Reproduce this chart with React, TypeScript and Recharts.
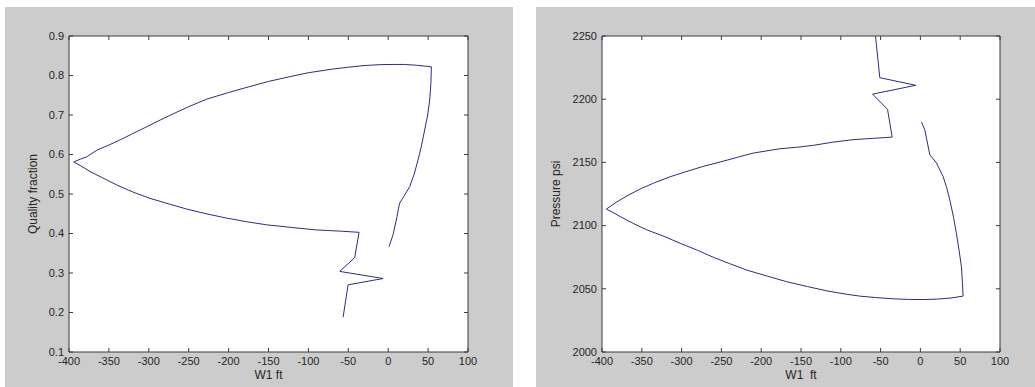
import React from 'react';
import { LineChart, Line, XAxis, YAxis, CartesianGrid, Label } from 'recharts';

// ---------- Data ----------
const xTicks = [-400, -350, -300, -250, -200, -150, -100, -50, 0, 50, 100];
const qualityTicks = [0.1, 0.2, 0.3, 0.4, 0.5, 0.6, 0.7, 0.8, 0.9];
const pressureTicks = [2000, 2050, 2100, 2150, 2200, 2250];

const w1Quality = [
  -56.5, -50.3, -6.4, -60.7, -42, -36.5, -60, -89.9, -120, -152.5, -178, -202.6, -228,
  -252.7, -275, -298.6, -320, -340.3, -358, -373.7, -385, -394,
  -386, -378, -365, -350, -336, -320, -302.8, -285, -269.4, -250, -227.6, -200, -173.4,
  -150, -123.3, -100, -69, -50, -31.5, -10, 6.1, 20, 35.3, 54.1,
  53.5, 52, 49.5, 45.7, 42, 37.4, 32.5, 27, 20, 14.4, 12.5, 11.1, 6.1, 1.1,
];
const quality = [
  0.188, 0.27, 0.286, 0.304, 0.339, 0.403, 0.406, 0.409, 0.415, 0.422, 0.43, 0.439, 0.45,
  0.462, 0.475, 0.489, 0.505, 0.523, 0.541, 0.557, 0.571, 0.581,
  0.588, 0.594, 0.611, 0.624, 0.637, 0.653, 0.67, 0.688, 0.703, 0.721, 0.74, 0.757, 0.772,
  0.785, 0.797, 0.807, 0.8165, 0.821, 0.825, 0.8275, 0.828, 0.828, 0.826, 0.822,
  0.78, 0.738, 0.7, 0.662, 0.625, 0.586, 0.55, 0.519, 0.495, 0.477, 0.46, 0.443, 0.397, 0.367,
];

const w1Pressure = [
  -56.4, -51, -5.8, -60.1, -41.3, -35.5, -60, -84.4, -110, -134.5, -155, -176.3, -209.8,
  -230, -251.6, -272, -293.4, -315, -335.2, -352, -368.6, -382, -394.6,
  -385, -377, -360, -343.6, -322, -301.8, -280, -260, -240, -218.1, -192, -168, -142,
  -117.8, -96, -76, -55, -34.2, -15, 3.4, 20, 36.9, 53.6,
  52.8, 51.5, 48.7, 45.2, 41.5, 36.9, 33, 28.5, 20.2, 11.8, 5.5, 1.3,
];
const pressure = [
  2250, 2217, 2211, 2204, 2192, 2170, 2169, 2168, 2166, 2163.5, 2162, 2160.8, 2157.4,
  2154, 2150.3, 2147, 2142.9, 2138.5, 2133.6, 2129, 2123.5, 2118.5, 2113,
  2110, 2107.1, 2101.5, 2096.6, 2091.5, 2086, 2080.5, 2074.9, 2070, 2064.8, 2060, 2055.6, 2051.8,
  2048.4, 2046, 2044.2, 2043, 2042.1, 2041.6, 2041.5, 2041.8, 2042.6, 2044.2,
  2055, 2067.5, 2080, 2093.9, 2107, 2120.4, 2130, 2138.9, 2149.5, 2156.1, 2175.9, 2182,
];

const qualityData = w1Quality.map((w, i) => ({ w, v: quality[i] }));
const pressureData = w1Pressure.map((w, i) => ({ w, v: pressure[i] }));

// ---------- Styles ----------
const AX = '#3a3a3a';
const TXT = '#262626';
const LINE = '#2c2c84';
const FONT = '"Liberation Sans", Arial, Helvetica, sans-serif';

const BottomTick = (props: any) => {
  const { x, y, payload } = props;
  return (
    <g>
      <line x1={x} y1={y} x2={x} y2={y - 4} stroke={AX} />
      <text x={x} y={y + 5} dy="0.71em" textAnchor="middle" fontSize={11} fill={TXT} fontFamily={FONT}>
        {String(payload.value)}
      </text>
    </g>
  );
};
const TopTick = (props: any) => {
  const { x, y } = props;
  return <line x1={x} y1={y} x2={x} y2={y + 4} stroke={AX} />;
};
const LeftTick = (props: any) => {
  const { x, y, payload } = props;
  return (
    <g>
      <line x1={x} y1={y} x2={x + 4} y2={y} stroke={AX} />
      <text x={x - 5} y={y} dy="0.35em" textAnchor="end" fontSize={11} fill={TXT} fontFamily={FONT}>
        {String(payload.value)}
      </text>
    </g>
  );
};
const RightTick = (props: any) => {
  const { x, y } = props;
  return <line x1={x} y1={y} x2={x - 4} y2={y} stroke={AX} />;
};

type PanelProps = {
  data: { w: number; v: number }[];
  yTicks: number[];
  yDomain: [number, number];
  yLabel: string;
  xLabel: string;
  width: number;
  leftAxisWidth: number;
  marginLeft: number;
  marginRight: number;
};

const Panel = ({ data, yTicks, yDomain, yLabel, xLabel, width, leftAxisWidth, marginLeft, marginRight }: PanelProps) => (
  <LineChart
    width={width}
    height={380}
    data={data}
    margin={{ top: 19, right: marginRight, bottom: 10, left: marginLeft }}
    style={{ fontFamily: FONT }}
  >
    <CartesianGrid xAxisId="bottom" yAxisId="left" fill="#ffffff" horizontal={false} vertical={false} stroke="none" />
    <XAxis
      xAxisId="bottom"
      dataKey="w"
      type="number"
      domain={[-400, 100]}
      ticks={xTicks}
      allowDataOverflow
      interval={0}
      height={25}
      tickSize={0}
      tickMargin={0}
      tick={<BottomTick />}
      axisLine={{ stroke: AX }}
    >
      <Label value={xLabel} position="insideBottom" offset={-2} fontSize={12} fill={TXT} />
    </XAxis>
    <XAxis
      xAxisId="top"
      orientation="top"
      dataKey="w"
      type="number"
      domain={[-400, 100]}
      ticks={xTicks}
      allowDataOverflow
      interval={0}
      height={10}
      tickSize={0}
      tickMargin={0}
      tick={<TopTick />}
      axisLine={{ stroke: AX }}
    />
    <YAxis
      yAxisId="left"
      type="number"
      domain={yDomain}
      ticks={yTicks}
      allowDataOverflow
      interval={0}
      width={leftAxisWidth}
      tickSize={0}
      tickMargin={0}
      tick={<LeftTick />}
      axisLine={{ stroke: AX }}
    >
      <Label
        value={yLabel}
        angle={-90}
        position="insideLeft"
        offset={4}
        fontSize={12}
        fill={TXT}
        style={{ textAnchor: 'middle' }}
      />
    </YAxis>
    <YAxis
      yAxisId="right"
      orientation="right"
      type="number"
      domain={yDomain}
      ticks={yTicks}
      allowDataOverflow
      interval={0}
      width={10}
      tickSize={0}
      tickMargin={0}
      tick={<RightTick />}
      axisLine={{ stroke: AX }}
    />
    <Line
      xAxisId="bottom"
      yAxisId="left"
      type="linear"
      dataKey="v"
      stroke={LINE}
      strokeWidth={1}
      dot={false}
      activeDot={false}
      isAnimationActive={false}
    />
  </LineChart>
);

export default function App() {
  return (
    <div style={{ position: 'absolute', left: 0, top: 0, width: 1035, height: 387, background: '#ffffff' }}>
      <div style={{ position: 'absolute', left: 5, top: 7, width: 508, height: 380, background: '#cccccc' }}>
        <Panel
          data={qualityData}
          yTicks={qualityTicks}
          yDomain={[0.1, 0.9]}
          yLabel="Quality fraction"
          xLabel="W1 ft"
          width={508}
          leftAxisWidth={40}
          marginLeft={24}
          marginRight={35}
        />
      </div>
      <div style={{ position: 'absolute', left: 536, top: 7, width: 499, height: 380, background: '#cccccc' }}>
        <Panel
          data={pressureData}
          yTicks={pressureTicks}
          yDomain={[2000, 2250]}
          yLabel="Pressure psi"
          xLabel={'W1\u00A0\u00A0ft'}
          width={499}
          leftAxisWidth={50}
          marginLeft={16}
          marginRight={25}
        />
      </div>
    </div>
  );
}
